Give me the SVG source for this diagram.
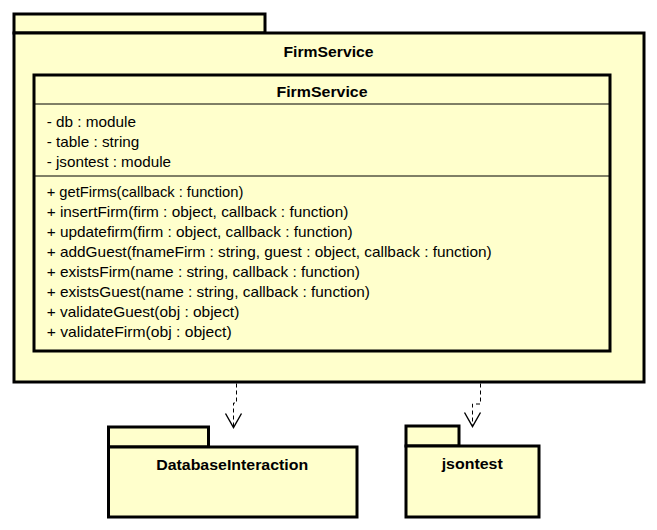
<svg xmlns="http://www.w3.org/2000/svg" width="657" height="530" viewBox="0 0 657 530">
<style>
.pkg{fill:#FFFFCC;stroke:#000;stroke-width:3}
.cls{fill:#FFFFCC;stroke:#000;stroke-width:3}
.sep{stroke:#000;stroke-width:1;fill:none}
.t{font-family:"Liberation Sans",Arial,sans-serif;font-size:15px;fill:#000}
.b{font-family:"Liberation Sans",Arial,sans-serif;font-size:15px;font-weight:bold;fill:#000;text-anchor:middle}
.dep{fill:none;stroke:#000;stroke-width:1;stroke-dasharray:4,3}
</style>
<defs>
<marker id="open" markerUnits="userSpaceOnUse" viewBox="-16 -10 18 20" refX="0" refY="0" markerWidth="18" markerHeight="20" orient="auto" overflow="visible">
<path d="M-14,-8 L0,0 L-14,8" fill="none" stroke="#000" stroke-width="1.4" stroke-dasharray="none"/>
</marker>
</defs>
<rect width="657" height="530" fill="#FFFFFF"/>
<g id="pkg-FirmService">
<rect class="pkg" x="14" y="14" width="251" height="19"/>
<rect class="pkg" x="14" y="33" width="630" height="349"/>
<text class="b" x="328.5" y="56.5" textLength="90" lengthAdjust="spacingAndGlyphs">FirmService</text>
</g>
<g id="class-FirmService">
<rect class="cls" x="34" y="75" width="576" height="276"/>
<line class="sep" x1="34" y1="104" x2="610" y2="104"/>
<line class="sep" x1="34" y1="176" x2="610" y2="176"/>
<text class="b" x="322" y="96.5" textLength="91" lengthAdjust="spacingAndGlyphs">FirmService</text>
<text class="t" x="46.7" y="127" textLength="89.3" lengthAdjust="spacingAndGlyphs">- db : module</text>
<text class="t" x="46.7" y="147" textLength="92.6" lengthAdjust="spacingAndGlyphs">- table : string</text>
<text class="t" x="46.7" y="167" textLength="124.3" lengthAdjust="spacingAndGlyphs">- jsontest : module</text>
<text class="t" x="46.7" y="197" textLength="196.6" lengthAdjust="spacingAndGlyphs">+ getFirms(callback : function)</text>
<text class="t" x="46.7" y="217" textLength="301.6" lengthAdjust="spacingAndGlyphs">+ insertFirm(firm : object, callback : function)</text>
<text class="t" x="46.7" y="237" textLength="306" lengthAdjust="spacingAndGlyphs">+ updatefirm(firm : object, callback : function)</text>
<text class="t" x="46.7" y="257" textLength="445" lengthAdjust="spacingAndGlyphs">+ addGuest(fnameFirm : string, guest : object, callback : function)</text>
<text class="t" x="46.7" y="277" textLength="313.3" lengthAdjust="spacingAndGlyphs">+ existsFirm(name : string, callback : function)</text>
<text class="t" x="46.7" y="297" textLength="323.3" lengthAdjust="spacingAndGlyphs">+ existsGuest(name : string, callback : function)</text>
<text class="t" x="46.7" y="317" textLength="192.6" lengthAdjust="spacingAndGlyphs">+ validateGuest(obj : object)</text>
<text class="t" x="46.7" y="337" textLength="185" lengthAdjust="spacingAndGlyphs">+ validateFirm(obj : object)</text>
</g>
<g id="pkg-DatabaseInteraction">
<rect class="pkg" x="108.5" y="427" width="100" height="20"/>
<rect class="pkg" x="108.5" y="447" width="248.5" height="70"/>
<text class="b" x="232.2" y="470" textLength="152" lengthAdjust="spacingAndGlyphs">DatabaseInteraction</text>
</g>
<g id="pkg-jsontest">
<rect class="pkg" x="406" y="426" width="53" height="20"/>
<rect class="pkg" x="406" y="446" width="133" height="71"/>
<text class="b" x="472.2" y="469" textLength="61" lengthAdjust="spacingAndGlyphs">jsontest</text>
</g>
<g id="connectors">
<path class="dep" d="M236.5,383.5 V403 H233.5 V427.5" marker-end="url(#open)"/>
<path class="dep" d="M480.5,383.5 V404 H472.5 V426.5" marker-end="url(#open)"/>
</g>
</svg>
